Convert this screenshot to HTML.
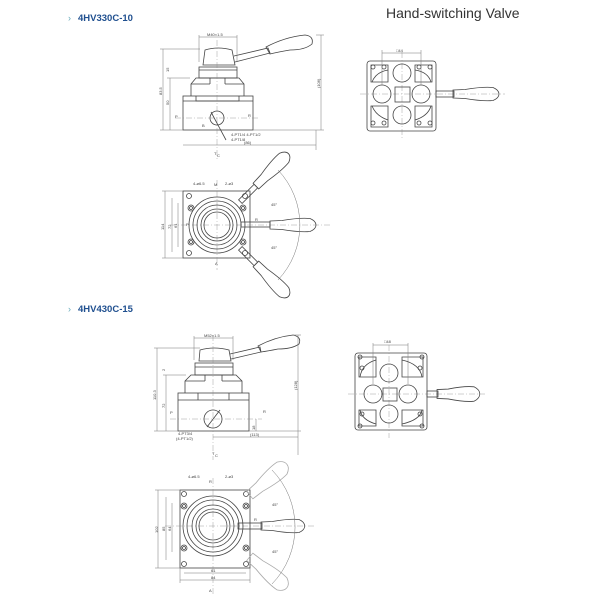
<!DOCTYPE html>
<html><head><meta charset="utf-8"><style>
html,body{margin:0;padding:0;background:#fff;width:600px;height:600px;overflow:hidden}
svg{display:block}
.l{stroke:#444;stroke-width:0.8;fill:none}
.t{stroke:#777;stroke-width:0.5;fill:none}
.c{stroke:#888;stroke-width:0.4;fill:none;stroke-dasharray:6 2 1 2}
.p{stroke:#aaa;stroke-width:0.7;fill:none}
text{font-family:"Liberation Sans",sans-serif}
.d{font-size:4px;fill:#444}
</style></head><body>
<svg width="600" height="600" viewBox="0 0 600 600" xmlns="http://www.w3.org/2000/svg">
<defs>
<path id="grip" d="M0,-4 L12,-4.5 Q30,-7.5 40,-6.5 Q46,-4 46,0 Q46,4 40,6.5 Q30,7.5 12,4.5 L0,4 Z"/>
</defs>
<text x="386" y="18" font-size="14" fill="#333">Hand-switching Valve</text>
<text x="68" y="21" font-size="9" fill="#6ab" >›</text>
<text x="78" y="21" font-size="9.5" font-weight="bold" fill="#1f4f8f">4HV330C-10</text>
<text x="68" y="312" font-size="9" fill="#6ab">›</text>
<text x="78" y="312" font-size="9.5" font-weight="bold" fill="#1f4f8f">4HV430C-15</text>

<!-- ===== Section 1 front ===== -->
<g>
<rect class="l" x="183" y="96" width="70" height="34"/>
<path class="l" d="M196,96 V101 H239 V96"/>
<path class="l" d="M183,101 H253"/>
<path class="l" d="M191,96 V84 L196,78 H239 L244,84 V96"/>
<path class="l" d="M210,78 V84 M225,78 V84 M191,84 H210 M225,84 H244"/>
<rect class="l" x="199" y="67" width="38" height="11"/>
<line class="l" x1="199" y1="70" x2="237" y2="70"/>
<path class="l" d="M203,65 L205,50 Q218,46 232,50 L235,65 Z"/>
<path class="l" d="M234,56 L268,48 L270,53 L235,62"/>
<path class="l" d="M266,47 Q285,37 305,35 Q314,36 312,44 Q305,50 290,50 Q278,52 270,54 Z"/>
<circle class="l" cx="217" cy="118" r="7"/>
<line class="c" x1="217" y1="40" x2="217" y2="160"/>
<line class="c" x1="175" y1="118" x2="260" y2="118"/>
<line class="l" x1="211" y1="112" x2="226" y2="140"/>
<path class="t" d="M199,37 H237 M199,35 V62 M237,35 V62"/>
<text class="d" x="207" y="36">M40×1.5</text>
<path class="t" d="M163,49 V130 M160,49 H200 M160,130 H183 M170,78 V130 M167,78 H190"/>
<text class="d" x="162" y="95" transform="rotate(-90 162 95)">83.5</text>
<text class="d" x="169" y="105" transform="rotate(-90 169 105)">50</text>
<text class="d" x="169" y="72" transform="rotate(-90 169 72)">15</text>
<path class="t" d="M321,35 V130 M316,35 H324 M253,130 H324 M183,145 H316 M316,130 V150"/>
<text class="d" x="320" y="88" transform="rotate(-90 320 88)">(106)</text>
<text class="d" x="244" y="144">(86)</text>
<text class="d" x="231" y="136">4-PT1/4  4-PT1/2</text>
<text class="d" x="231" y="141">4-PT1/8</text>
<text class="d" x="175" y="118">P</text><text class="d" x="248" y="117">R</text>
<text class="d" x="202" y="127">B</text>
<text class="d" x="214" y="155">T</text><text class="d" x="217" y="157" font-size="3">C</text>
</g>

<!-- ===== Section 1 top ===== -->
<g>
<rect class="l" x="183" y="191" width="67" height="67"/>
<line class="c" x1="217" y1="180" x2="217" y2="270"/>
<line class="c" x1="170" y1="225" x2="330" y2="225"/>
<circle class="l" cx="217" cy="225" r="28"/>
<circle class="l" cx="217" cy="225" r="24"/>
<circle class="l" cx="217" cy="225" r="20"/>
<circle class="l" cx="217" cy="225" r="16"/>
<circle class="l" cx="217" cy="225" r="13"/>
<g class="l">
<circle cx="189" cy="196" r="2.5"/><circle cx="245" cy="196" r="2.5"/><circle cx="189" cy="253" r="2.5"/><circle cx="245" cy="253" r="2.5"/>
<circle cx="191" cy="208" r="3"/><circle cx="243" cy="208" r="3"/><circle cx="191" cy="242" r="3"/><circle cx="243" cy="242" r="3"/>
<circle cx="191" cy="208" r="1.5"/><circle cx="243" cy="208" r="1.5"/><circle cx="191" cy="242" r="1.5"/><circle cx="243" cy="242" r="1.5"/>
</g>
<rect class="l" x="241" y="222" width="29" height="5"/>
<use href="#grip" class="l" transform="translate(270,225)"/>
<g transform="translate(217,225) rotate(-45)"><rect class="l" x="33" y="-2.5" width="22" height="5"/><use href="#grip" class="l" transform="translate(55,0)"/></g>
<g transform="translate(217,225) rotate(45)"><rect class="l" x="33" y="-2.5" width="22" height="5"/><use href="#grip" class="l" transform="translate(55,0)"/></g>
<path class="t" d="M278,170 A80,80 0 0 1 278,280"/>
<text class="d" x="271" y="206">45°</text><text class="d" x="271" y="249">45°</text>
<path class="t" d="M165,191 V258 M172,198 V252 M178,203 V247 M162,191 H183 M162,258 H183"/>
<text class="d" x="164" y="230" transform="rotate(-90 164 230)">114</text>
<text class="d" x="171" y="229" transform="rotate(-90 171 229)">72</text>
<text class="d" x="177" y="228" transform="rotate(-90 177 228)">61</text>
<text class="d" x="193" y="185">4-ø6.5</text><text class="d" x="225" y="185">2-ø3</text>
<text class="d" x="214" y="186">M</text>
<text class="d" x="186" y="226">P</text><text class="d" x="255" y="221">R</text>
<text class="d" x="215" y="265">A</text>
</g>

<!-- ===== Section 1 side ===== -->
<g>
<rect class="l" x="367" y="61" width="69" height="70" rx="3"/>
<line class="c" x1="402" y1="52" x2="402" y2="138"/>
<line class="c" x1="360" y1="94" x2="505" y2="94"/>
<circle class="l" cx="402" cy="73" r="9"/><circle class="l" cx="382" cy="94" r="9"/>
<circle class="l" cx="421" cy="94" r="9"/><circle class="l" cx="402" cy="115" r="9"/>
<rect class="l" x="395" y="87" width="15" height="15"/>
<path class="l" d="M371,65 H388 V82 H371 Z M388,70 Q376,72 372,82"/>
<path class="l" d="M415,65 H432 V82 H415 Z M415,70 Q428,72 431,82"/>
<path class="l" d="M371,106 H388 V127 H371 Z M388,120 Q376,116 372,106"/>
<path class="l" d="M415,106 H432 V127 H415 Z M415,120 Q428,116 431,106"/>
<g class="l"><circle cx="373" cy="67" r="2"/><circle cx="384" cy="67" r="2"/><circle cx="419" cy="67" r="2"/><circle cx="430" cy="67" r="2"/>
<circle cx="373" cy="123" r="2"/><circle cx="384" cy="123" r="2"/><circle cx="419" cy="123" r="2"/><circle cx="430" cy="123" r="2"/></g>
<rect class="l" x="436" y="91" width="18" height="6"/>
<use href="#grip" class="l" transform="translate(453,94)"/>
<path class="t" d="M382,53 H421 M382,50 V85 M421,50 V85"/>
<text class="d" x="396" y="52">□44</text>
</g>

<!-- ===== Section 2 front ===== -->
<g>
<rect class="l" x="178" y="393" width="71" height="38"/>
<path class="l" d="M178,400 H249 M198,393 V400 M229,393 V400"/>
<path class="l" d="M185,393 V381 L191,375 H236 L242,381 V393"/>
<path class="l" d="M205,375 V381 M222,375 V381 M185,381 H205 M222,381 H242"/>
<rect class="l" x="195" y="363" width="38" height="12"/>
<line class="l" x1="195" y1="367" x2="233" y2="367"/>
<path class="l" d="M199,361 L200,350 Q214,346 229,350 L231,361 Z"/>
<path class="l" d="M230,354 L260,347 L261,352 L231,359"/>
<path class="l" d="M258,346 Q275,337 293,335 Q302,337 299,344 Q292,349 278,349 Q268,351 261,352 Z"/>
<circle class="l" cx="213" cy="419" r="9"/>
<line class="l" x1="207" y1="427" x2="220" y2="410"/>
<line class="c" x1="213" y1="335" x2="213" y2="460"/>
<line class="c" x1="170" y1="419" x2="262" y2="419"/>
<path class="t" d="M194,338 H233 M194,336 V360 M233,336 V360"/>
<text class="d" x="204" y="337">M52×1.5</text>
<path class="t" d="M157,348 V431 M154,348 H200 M154,431 H178 M166,375 V431 M163,375 H186"/>
<text class="d" x="156" y="400" transform="rotate(-90 156 400)">110.3</text>
<text class="d" x="165" y="408" transform="rotate(-90 165 408)">72</text>
<text class="d" x="165" y="371" transform="rotate(-90 165 371)">2</text>
<path class="t" d="M298,335 V455 M293,335 H301 M249,431 H301 M213,437 H298 M256,419 V431"/>
<text class="d" x="297" y="390" transform="rotate(-90 297 390)">(128)</text>
<text class="d" x="250" y="436">(113)</text>
<text class="d" x="255" y="430" transform="rotate(-90 255 430)">18</text>
<text class="d" x="178" y="435">4-PT3/4</text><text class="d" x="176" y="440">(4-PT1/2)</text>
<text class="d" x="170" y="414">P</text><text class="d" x="263" y="413">R</text>
<text class="d" x="212" y="455">T</text><text class="d" x="215" y="457" font-size="3">C</text>
</g>

<!-- ===== Section 2 side ===== -->
<g>
<rect class="l" x="355" y="353" width="72" height="77" rx="3"/>
<line class="c" x1="389" y1="345" x2="389" y2="438"/>
<line class="c" x1="348" y1="394" x2="485" y2="394"/>
<circle class="l" cx="389" cy="373" r="9"/><circle class="l" cx="373" cy="394" r="9"/>
<circle class="l" cx="408" cy="394" r="9"/><circle class="l" cx="389" cy="414" r="9"/>
<rect class="l" x="383" y="388" width="14" height="13"/>
<path class="l" d="M359,357 H376 V377 H359 Z M376,360 Q362,364 360,377"/>
<path class="l" d="M402,357 H423 V377 H402 Z M402,360 Q420,364 422,377"/>
<path class="l" d="M359,410 H376 V426 H359 Z M376,424 Q362,420 360,410"/>
<path class="l" d="M402,410 H423 V426 H402 Z M402,424 Q420,420 422,410"/>
<g class="l"><circle cx="360" cy="357" r="2"/><circle cx="362" cy="368" r="2"/><circle cx="422" cy="357" r="2"/><circle cx="420" cy="368" r="2"/>
<circle cx="360" cy="426" r="2"/><circle cx="362" cy="414" r="2"/><circle cx="422" cy="426" r="2"/><circle cx="420" cy="414" r="2"/></g>
<rect class="l" x="427" y="391" width="11" height="6"/>
<use href="#grip" class="l" transform="translate(437,394) scale(0.93,1.1)"/>
<path class="t" d="M373,345 H408 M373,343 V384 M408,343 V384"/>
<text class="d" x="384" y="343">□48</text>
</g>

<!-- ===== Section 2 top ===== -->
<g>
<rect class="l" x="180" y="490" width="70" height="78"/>
<line class="c" x1="213" y1="478" x2="213" y2="595"/>
<line class="c" x1="165" y1="526" x2="315" y2="526"/>
<circle class="l" cx="213" cy="526" r="30"/>
<circle class="l" cx="213" cy="526" r="26"/>
<circle class="l" cx="213" cy="526" r="21"/>
<circle class="l" cx="213" cy="526" r="17"/>
<circle class="l" cx="213" cy="526" r="14"/>
<g class="l">
<circle cx="184" cy="494" r="2.5"/><circle cx="246" cy="494" r="2.5"/><circle cx="184" cy="564" r="2.5"/><circle cx="246" cy="564" r="2.5"/>
<circle cx="184" cy="506" r="3"/><circle cx="246" cy="506" r="3"/><circle cx="184" cy="548" r="3"/><circle cx="246" cy="548" r="3"/>
<circle cx="184" cy="506" r="1.5"/><circle cx="246" cy="506" r="1.5"/><circle cx="184" cy="548" r="1.5"/><circle cx="246" cy="548" r="1.5"/>
</g>
<rect class="l" x="238" y="523" width="24" height="6"/>
<use href="#grip" class="l" transform="translate(261,526) scale(0.95,1)"/>
<g transform="translate(213,526) rotate(-40)"><use href="#grip" class="p" transform="translate(48,0) scale(1.05,1.2)"/></g>
<g transform="translate(213,526) rotate(40)"><use href="#grip" class="p" transform="translate(48,0) scale(1.05,1.2)"/></g>
<path class="t" d="M272,470 A82,82 0 0 1 272,584"/>
<text class="d" x="272" y="506">45°</text><text class="d" x="272" y="553">45°</text>
<path class="t" d="M158,490 V568 M166,497 V560 M172,503 V552 M155,490 H180 M155,568 H180"/>
<text class="d" x="158" y="533" transform="rotate(-90 158 533)">102</text>
<text class="d" x="165" y="531" transform="rotate(-90 165 531)">85</text>
<text class="d" x="171" y="531" transform="rotate(-90 171 531)">64</text>
<path class="t" d="M184,573 H246 M180,580 H250 M180,568 V583 M250,568 V583"/>
<text class="d" x="211" y="572">61</text><text class="d" x="211" y="579">84</text>
<text class="d" x="188" y="478">4-ø6.5</text><text class="d" x="225" y="478">2-ø3</text>
<text class="d" x="209" y="483">R</text>
<text class="d" x="254" y="521">R</text>
<text class="d" x="209" y="592">A</text>
</g>
</svg>
</body></html>
